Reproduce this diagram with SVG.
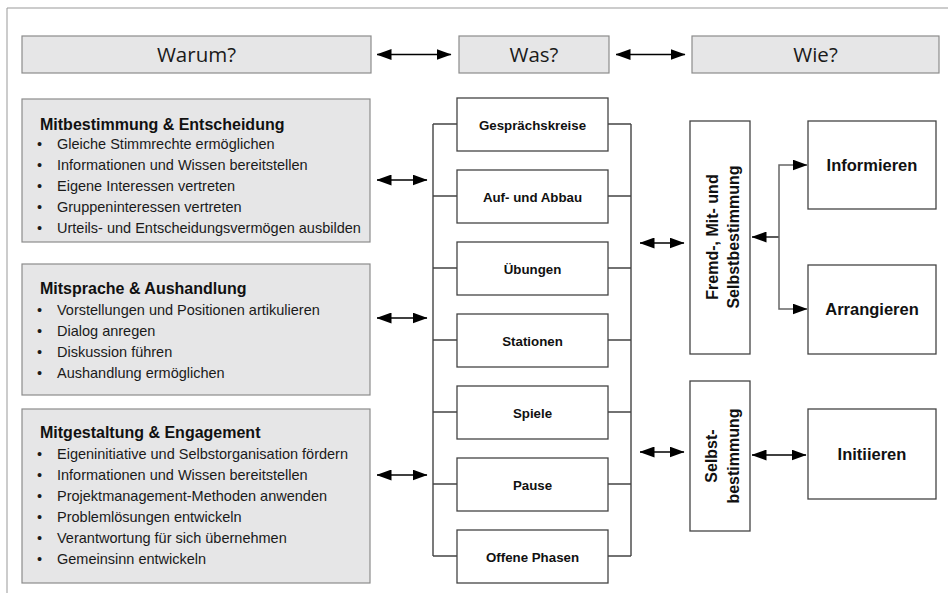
<svg xmlns="http://www.w3.org/2000/svg" width="948" height="599" viewBox="0 0 948 599">
<style>
.gb{fill:#e6e6e7;stroke:#8c8c8c;stroke-width:1.2}
.ht{font-family:"Open Sans","Liberation Sans",sans-serif;font-size:20.5px;fill:#1a1a1a;text-anchor:middle}
.pt{font-family:"Liberation Sans",Arial,sans-serif;font-weight:bold;font-size:16px;fill:#111}
.li{font-family:"Liberation Sans",Arial,sans-serif;font-size:14.5px;fill:#1a1a1a}
.box{fill:#fff;stroke:#444;stroke-width:1.3}
.bt{font-family:"Liberation Sans",Arial,sans-serif;font-weight:bold;font-size:13.3px;fill:#111;text-anchor:middle}
.rt{font-family:"Liberation Sans",Arial,sans-serif;font-weight:bold;font-size:16.5px;fill:#111;text-anchor:middle}
.vt{font-family:"Liberation Sans",Arial,sans-serif;font-weight:bold;font-size:16px;fill:#111;text-anchor:middle}
.ln{fill:none;stroke:#444;stroke-width:1.4}
.a2{fill:none;stroke:#000;stroke-width:1.3;marker-start:url(#ah);marker-end:url(#ah)}
.a1{fill:none;stroke:#000;stroke-width:1.3;marker-end:url(#ah)}
.cg{fill:none;stroke:#666;stroke-width:1.5;marker-start:url(#ah);marker-end:url(#ah)}
</style>
<defs>
<marker id="ah" viewBox="0 0 15 11" refX="14.5" refY="5.5" markerWidth="15" markerHeight="11" markerUnits="userSpaceOnUse" orient="auto-start-reverse"><path d="M0,0L15,5.5L0,11z" fill="#000"/></marker>
</defs>
<path d="M7,593V8H948" fill="none" stroke="#999" stroke-width="1"/>

<g id="warum"><rect class="gb" x="22" y="36" width="349" height="37"/><text class="ht" x="196.5" y="61.5">Warum?</text></g>
<g id="was"><rect class="gb" x="459" y="36" width="150" height="37"/><text class="ht" x="534" y="61.5">Was?</text></g>
<g id="wie"><rect class="gb" x="692" y="36" width="247" height="37"/><text class="ht" x="815.5" y="61.5">Wie?</text></g>

<g id="mitbestimmung">
<rect class="gb" x="22" y="99" width="348" height="143"/>
<text class="pt" x="40" y="130">Mitbestimmung &amp; Entscheidung</text>
<text class="li" y="149"><tspan x="37">•</tspan><tspan x="57">Gleiche Stimmrechte ermöglichen</tspan></text>
<text class="li" y="170"><tspan x="37">•</tspan><tspan x="57">Informationen und Wissen bereitstellen</tspan></text>
<text class="li" y="191"><tspan x="37">•</tspan><tspan x="57">Eigene Interessen vertreten</tspan></text>
<text class="li" y="212"><tspan x="37">•</tspan><tspan x="57">Gruppeninteressen vertreten</tspan></text>
<text class="li" y="233"><tspan x="37">•</tspan><tspan x="57">Urteils- und Entscheidungsvermögen ausbilden</tspan></text>
</g>

<g id="mitsprache">
<rect class="gb" x="22" y="264" width="348" height="131"/>
<text class="pt" x="40" y="294">Mitsprache &amp; Aushandlung</text>
<text class="li" y="315"><tspan x="37">•</tspan><tspan x="57">Vorstellungen und Positionen artikulieren</tspan></text>
<text class="li" y="336"><tspan x="37">•</tspan><tspan x="57">Dialog anregen</tspan></text>
<text class="li" y="357"><tspan x="37">•</tspan><tspan x="57">Diskussion führen</tspan></text>
<text class="li" y="378"><tspan x="37">•</tspan><tspan x="57">Aushandlung ermöglichen</tspan></text>
</g>

<g id="mitgestaltung">
<rect class="gb" x="22" y="409" width="348" height="174"/>
<text class="pt" x="40" y="438">Mitgestaltung &amp; Engagement</text>
<text class="li" y="459"><tspan x="37">•</tspan><tspan x="57">Eigeninitiative und Selbstorganisation fördern</tspan></text>
<text class="li" y="480"><tspan x="37">•</tspan><tspan x="57">Informationen und Wissen bereitstellen</tspan></text>
<text class="li" y="501"><tspan x="37">•</tspan><tspan x="57">Projektmanagement-Methoden anwenden</tspan></text>
<text class="li" y="522"><tspan x="37">•</tspan><tspan x="57">Problemlösungen entwickeln</tspan></text>
<text class="li" y="543"><tspan x="37">•</tspan><tspan x="57">Verantwortung für sich übernehmen</tspan></text>
<text class="li" y="564"><tspan x="37">•</tspan><tspan x="57">Gemeinsinn entwickeln</tspan></text>
</g>

<g id="gespraechskreise"><rect class="box" x="457" y="98" width="151" height="53"/><text class="bt" x="532.5" y="129.5">Gesprächskreise</text></g>
<g id="aufabbau"><rect class="box" x="457" y="170" width="151" height="53"/><text class="bt" x="532.5" y="201.5">Auf- und Abbau</text></g>
<g id="uebungen"><rect class="box" x="457" y="242" width="151" height="53"/><text class="bt" x="532.5" y="273.5">Übungen</text></g>
<g id="stationen"><rect class="box" x="457" y="314" width="151" height="53"/><text class="bt" x="532.5" y="345.5">Stationen</text></g>
<g id="spiele"><rect class="box" x="457" y="386" width="151" height="53"/><text class="bt" x="532.5" y="417.5">Spiele</text></g>
<g id="pause"><rect class="box" x="457" y="458" width="151" height="53"/><text class="bt" x="532.5" y="489.5">Pause</text></g>
<g id="offene"><rect class="box" x="457" y="530" width="151" height="53"/><text class="bt" x="532.5" y="561.5">Offene Phasen</text></g>

<g id="fremd"><rect class="box" x="690" y="121" width="60" height="233"/>
<text class="vt" transform="translate(718,237) rotate(-90)">Fremd-, Mit- und</text>
<text class="vt" transform="translate(739,237) rotate(-90)">Selbstbestimmung</text></g>
<g id="selbst"><rect class="box" x="690" y="381" width="60" height="150"/>
<text class="vt" transform="translate(717,456) rotate(-90)">Selbst-</text>
<text class="vt" transform="translate(739,456) rotate(-90)">bestimmung</text></g>
<g id="informieren"><rect class="box" x="808" y="121" width="128" height="88"/><text class="rt" x="872" y="171">Informieren</text></g>
<g id="arrangieren"><rect class="box" x="808" y="265" width="128" height="89"/><text class="rt" x="872" y="315">Arrangieren</text></g>
<g id="initiieren"><rect class="box" x="808" y="409" width="128" height="90"/><text class="rt" x="872" y="460">Initiieren</text></g>

<g id="connectors">
<path class="a2" d="M377,54.5H451"/>
<path class="a2" d="M616,54.5H685"/>
<path class="ln" d="M433,124V556M433,124H457M433,196H457M433,268H457M433,340H457M433,412H457M433,484H457M433,556H457"/>
<path class="ln" d="M631,124V556M608,124H631M608,196H631M608,268H631M608,340H631M608,412H631M608,484H631M608,556H631"/>
<path class="a2" d="M377,180H427"/>
<path class="a2" d="M377,318H427"/>
<path class="a2" d="M377,475H427"/>
<path class="a2" d="M640,243H684"/>
<path class="a2" d="M640,452H684"/>
<path class="a1" d="M779,237H752"/>
<path class="cg" d="M807,165H779V309H807"/>
<path class="a2" d="M752,455H806"/>
</g>
</svg>
